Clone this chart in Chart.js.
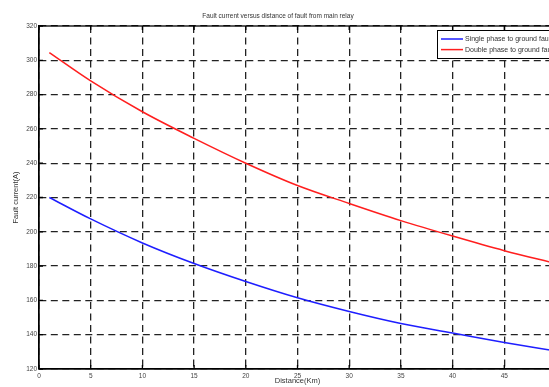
<!DOCTYPE html>
<html>
<head>
<meta charset="utf-8">
<script src="https://cdn.jsdelivr.net/npm/chart.js@4"></script>
<style>
html,body{margin:0;padding:0;overflow:hidden;background:#fff;width:549px;height:387px;}
canvas{display:block;}
</style>
</head>
<body>
<canvas id="c" width="566" height="387"></canvas>
<script>
const distanceKm = [1, 5, 10, 15, 20, 25, 30, 35, 40, 45, 50];
const singlePhase = [220, 207.5, 193.5, 181.5, 171, 161.5, 153.5, 146.5, 141, 135.5, 130.5];
const doublePhase = [304.5, 288, 270, 254.5, 240, 227, 216.5, 206.5, 197.5, 189, 181.5];
const seriesLabels = ['Single phase to ground fault', 'Double phase to ground fault'];
const chartTitle = 'Fault current versus distance of fault from main relay';
const xTitle = 'Distance(Km)';
const yTitle = 'Fault current(A)';

const FONT = '"Liberation Sans", Arial, sans-serif';

const boxPlugin = {
  id: 'boxPlugin',
  afterDraw(chart) {
    const {ctx, chartArea: a, scales} = chart;
    ctx.save();
    ctx.strokeStyle = '#000';
    ctx.lineWidth = 1.3;
    ctx.setLineDash([]);
    const tl = 4;
    scales.x.ticks.forEach(t => {
      const x = scales.x.getPixelForValue(t.value);
      ctx.beginPath();
      ctx.moveTo(x, a.bottom); ctx.lineTo(x, a.bottom - tl);
      ctx.moveTo(x, a.top); ctx.lineTo(x, a.top + tl);
      ctx.stroke();
    });
    scales.y.ticks.forEach(t => {
      const y = scales.y.getPixelForValue(t.value);
      ctx.beginPath();
      ctx.moveTo(a.left, y); ctx.lineTo(a.left + tl, y);
      ctx.moveTo(a.right, y); ctx.lineTo(a.right - tl, y);
      ctx.stroke();
    });
    ctx.strokeRect(a.left, a.top, a.right - a.left, a.bottom - a.top);
    // legend box
    const lx = 437, ly = 30, lw = 116, lh = 28;
    ctx.fillStyle = '#fff';
    ctx.fillRect(lx, ly, lw, lh);
    ctx.lineWidth = 1;
    ctx.strokeRect(lx + 0.5, ly + 0.5, lw, lh);
    ctx.font = '7px ' + FONT;
    ctx.textBaseline = 'middle';
    ctx.textAlign = 'left';
    chart.data.datasets.forEach((ds, i) => {
      const yy = ly + 9 + i * 10.6;
      ctx.strokeStyle = ds.borderColor;
      ctx.lineWidth = 1.5;
      ctx.beginPath();
      ctx.moveTo(lx + 4, yy); ctx.lineTo(lx + 26, yy);
      ctx.stroke();
      ctx.fillStyle = '#333';
      ctx.fillText(ds.label, lx + 28, yy);
    });
    ctx.restore();
  }
};

new Chart(document.getElementById('c'), {
  type: 'line',
  data: {
    datasets: [
      {
        label: seriesLabels[0],
        data: distanceKm.map((x, i) => ({x: x, y: singlePhase[i]})),
        borderColor: 'rgb(30,30,255)',
        borderWidth: 1.5,
        pointRadius: 0,
        cubicInterpolationMode: 'monotone',
        fill: false
      },
      {
        label: seriesLabels[1],
        data: distanceKm.map((x, i) => ({x: x, y: doublePhase[i]})),
        borderColor: 'rgb(255,30,30)',
        borderWidth: 1.5,
        pointRadius: 0,
        cubicInterpolationMode: 'monotone',
        fill: false
      }
    ]
  },
  options: {
    responsive: false,
    animation: false,
    devicePixelRatio: 1,
    layout: {padding: {left: 0, right: 10, top: 0, bottom: 0}},
    plugins: {
      legend: {display: false},
      tooltip: {enabled: false},
      title: {
        display: true,
        text: chartTitle,
        color: '#333',
        font: {family: FONT, size: 6.5, weight: 'normal', lineHeight: 1},
        padding: {top: 13, bottom: 6.5}
      }
    },
    scales: {
      x: {
        type: 'linear',
        min: 0, max: 50,
        afterFit(s) { s.height = 18; },
        ticks: {stepSize: 5, color: '#444', padding: 3, maxRotation: 0,
                font: {family: FONT, size: 6.5}},
        grid: {color: '#222', lineWidth: 1.3, drawTicks: false},
        border: {display: true, color: '#000', width: 1.3, dash: [7, 4.5]},
        title: {display: true, text: xTitle, color: '#333',
                font: {family: FONT, size: 7.5}, padding: {top: 0, bottom: 2}}
      },
      y: {
        min: 120, max: 320,
        afterFit(s) { s.width = 39; },
        ticks: {stepSize: 20, color: '#444', padding: 2,
                font: {family: FONT, size: 6.5}},
        grid: {color: '#222', lineWidth: 1.3, drawTicks: false},
        border: {display: true, color: '#000', width: 1.3, dash: [7, 4.5]},
        title: {display: true, text: yTitle, color: '#333',
                font: {family: FONT, size: 7.5}, padding: {top: 11, bottom: 0}}
      }
    }
  },
  plugins: [boxPlugin]
});
</script>
</body>
</html>
